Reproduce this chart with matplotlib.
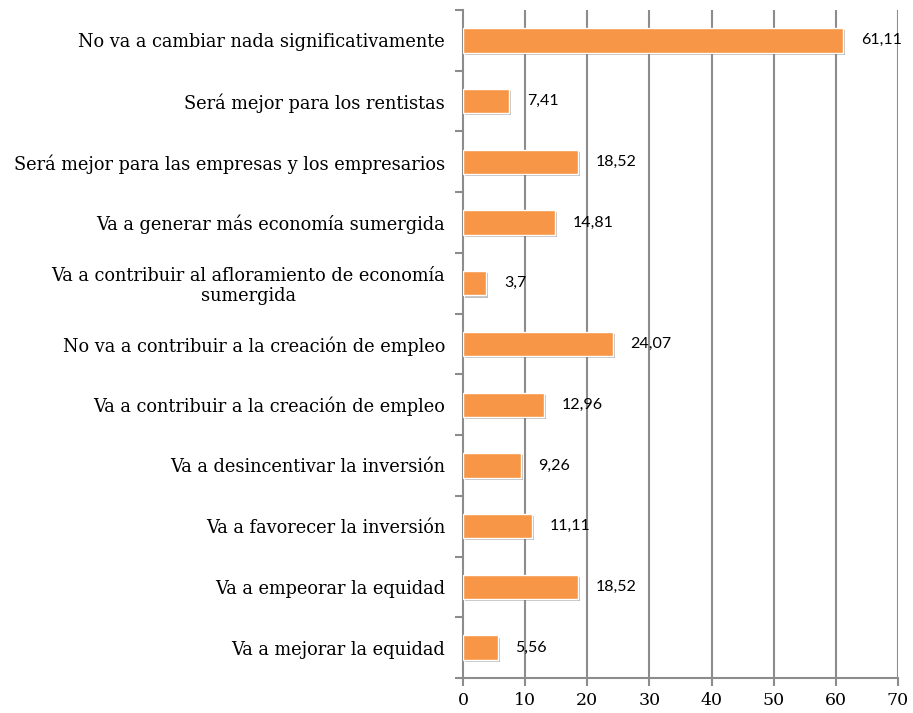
import matplotlib
matplotlib.use("Agg")
import matplotlib.pyplot as plt
import matplotlib.patheffects as pe
import numpy as np

categories = [
    "No va a cambiar nada significativamente",
    "Será mejor para los rentistas",
    "Será mejor para las empresas y los empresarios",
    "Va a generar más economía sumergida",
    "Va a contribuir al afloramiento de economía\nsumergida",
    "No va a contribuir a la creación de empleo",
    "Va a contribuir a la creación de empleo",
    "Va a desincentivar la inversión",
    "Va a favorecer la inversión",
    "Va a empeorar la equidad",
    "Va a mejorar la equidad",
]
values = [61.11, 7.41, 18.52, 14.81, 3.7, 24.07, 12.96, 9.26, 11.11, 18.52, 5.56]
value_labels = ["61,11", "7,41", "18,52", "14,81", "3,7", "24,07", "12,96", "9,26", "11,11", "18,52", "5,56"]
xticks = [0, 10, 20, 30, 40, 50, 60, 70]

fig = plt.figure(figsize=(9.13, 7.13), dpi=100)
ax = fig.add_axes([463/913, 1-678/713, (898-463)/913, (678-10)/713])

n = len(categories)
ypos = np.arange(n)[::-1]
grid_c = "#8c8c8c"
for x in xticks[1:]:
    ax.axvline(x, color=grid_c, lw=1.5, zorder=1)

bars = ax.barh(ypos, values, height=0.4, color="#f79646", edgecolor="white", lw=1.0, zorder=3)
for b in bars:
    b.set_path_effects([pe.SimplePatchShadow(offset=(1.5, -1.5), alpha=0.25, shadow_rgbFace="black"), pe.Normal()])

for y, v, lab in zip(ypos, values, value_labels):
    ax.annotate(lab, (v, y), xytext=(13, 0), textcoords="offset points",
                va="center", ha="left", fontsize=11.5, family="Lato", color="black", zorder=4)

ax.set_xlim(0, 70)
ax.set_ylim(-0.5, n - 0.5)
ax.set_xticks(xticks)
ax.set_xticklabels([str(x) for x in xticks], family="DejaVu Serif", fontsize=12.5)
ax.set_yticks(ypos)
ax.set_yticklabels(categories, family="DejaVu Serif", fontsize=12.8, ha="right", multialignment="center",
                   linespacing=1.15)
ax.tick_params(axis="y", which="major", length=0, pad=13)
ax.set_yticks(np.arange(-0.5, n, 1.0), minor=True)
ax.tick_params(axis="y", which="minor", length=6, width=1.5, color=grid_c, direction="out")
ax.tick_params(axis="x", length=6, width=1.5, color=grid_c, direction="out", pad=4)

for s in ["top", "right"]:
    ax.spines[s].set_visible(False)
ax.spines["left"].set_color(grid_c)
ax.spines["left"].set_linewidth(1.5)
ax.spines["bottom"].set_color(grid_c)
ax.spines["bottom"].set_linewidth(1.5)

fig.savefig("out.png", dpi=100, facecolor="white")
